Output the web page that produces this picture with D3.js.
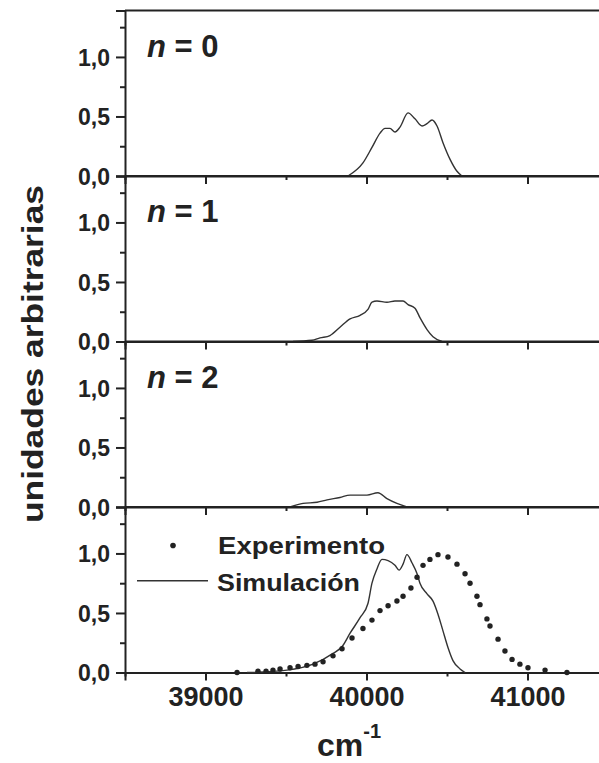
<!DOCTYPE html>
<html>
<head>
<meta charset="utf-8">
<script src="https://cdn.jsdelivr.net/npm/d3@7"></script>
<style>
  body { margin: 0; background: #fff; }
  svg text { font-family: "Liberation Sans", Arial, sans-serif; font-weight: bold; fill: #222; }
</style>
</head>
<body>
<svg id="chart"></svg>
<script>
// wavenumber axis (cm-1)
const xTicks = [39000, 40000, 41000];
const xMinor = [38500, 39500, 40500, 41500];
const yTicks = [0, 0.5, 1.0];
const yMinor = [0.25, 0.75, 1.25];
const panelNames = ["0", "1", "2"];

// n = 0
const n0X = [39885, 39978, 40034, 40084, 40115, 40146, 40177, 40208, 40258, 40301, 40345, 40376, 40407, 40438, 40475, 40519, 40562, 40593];
const n0Y = [0.0, 0.11, 0.24, 0.36, 0.40, 0.40, 0.37, 0.41, 0.53, 0.48, 0.42, 0.44, 0.47, 0.42, 0.28, 0.14, 0.04, 0.0];

// n = 1
const n1X = [39543, 39661, 39711, 39773, 39835, 39898, 39960, 40009, 40034, 40065, 40127, 40177, 40227, 40258, 40301, 40332, 40376, 40413, 40469];
const n1Y = [0.0, 0.01, 0.03, 0.05, 0.12, 0.19, 0.22, 0.27, 0.33, 0.34, 0.33, 0.34, 0.34, 0.31, 0.28, 0.20, 0.10, 0.04, 0.0];

// n = 2
const n2X = [39525, 39606, 39693, 39755, 39835, 39898, 40003, 40071, 40127, 40189, 40251];
const n2Y = [0.0, 0.03, 0.04, 0.06, 0.08, 0.10, 0.10, 0.12, 0.07, 0.03, 0.0];

// Simulacion
const simX = [39258, 39506, 39668, 39792, 39850, 39898, 39960, 40009, 40034, 40065, 40096, 40134, 40177, 40202, 40227, 40251, 40283, 40314, 40332, 40376, 40413, 40444, 40475, 40506, 40537, 40581, 40612];
const simY = [0.0, 0.02, 0.07, 0.16, 0.22, 0.33, 0.46, 0.58, 0.75, 0.87, 0.95, 0.94, 0.90, 0.86, 0.91, 0.99, 0.92, 0.83, 0.75, 0.66, 0.60, 0.49, 0.35, 0.21, 0.10, 0.03, 0.0];

// Experimento
const expX = [39196, 39326, 39376, 39419, 39463, 39525, 39575, 39630, 39680, 39730, 39792, 39848, 39910, 39978, 40034, 40084, 40134, 40189, 40227, 40276, 40314, 40351, 40394, 40444, 40506, 40562, 40612, 40643, 40686, 40705, 40748, 40767, 40817, 40860, 40904, 40953, 41003, 41109, 41245];
const expY = [0.0, 0.01, 0.01, 0.02, 0.03, 0.04, 0.05, 0.06, 0.07, 0.09, 0.14, 0.20, 0.29, 0.37, 0.44, 0.52, 0.56, 0.60, 0.64, 0.71, 0.80, 0.90, 0.95, 0.99, 0.97, 0.91, 0.83, 0.75, 0.64, 0.57, 0.45, 0.39, 0.28, 0.18, 0.11, 0.07, 0.04, 0.02, 0.0];

const W = 599, H = 763;
const margin = { top: 10.5, left: 125 };
const panelH = 165.5;
const plotRight = 608; // right frame falls just outside the picture
const ink = "#222";

const svg = d3.select("#chart").attr("width", W).attr("height", H);

const x = d3.scaleLinear().domain([38500, 41500]).range([margin.left, plotRight]);
const zip = (xs, ys) => xs.map((v, i) => [v, ys[i]]);
const curves = [zip(n0X, n0Y), zip(n1X, n1Y), zip(n2X, n2Y), zip(simX, simY)];

for (let p = 0; p < 4; p++) {
  const top = margin.top + p * panelH;
  const bottom = top + panelH;
  const y = d3.scaleLinear().domain([0, 1.39]).range([bottom, top]);
  const g = svg.append("g").attr("class", "panel");

  // frame
  g.append("line").attr("x1", margin.left).attr("x2", plotRight)
    .attr("y1", top).attr("y2", top).attr("stroke", ink).attr("stroke-width", 2);

  // bottom axis
  const xAxis = g.append("g").attr("transform", `translate(0,${bottom})`)
    .call(d3.axisBottom(x).tickValues(xTicks).tickSize(8).tickFormat(p === 3 ? d3.format("d") : ""));
  g.append("g").attr("transform", `translate(0,${bottom})`)
    .call(d3.axisBottom(x).tickValues(xMinor).tickSize(4).tickFormat(""))
    .select(".domain").remove();

  // left axis
  const yAxis = g.append("g").attr("transform", `translate(${margin.left},0)`)
    .call(d3.axisLeft(y).tickValues(yTicks).tickSize(9).tickFormat(d => d3.format(".1f")(d).replace(".", ",")));
  g.append("g").attr("transform", `translate(${margin.left},0)`)
    .call(d3.axisLeft(y).tickValues(yMinor).tickSize(5).tickFormat(""))
    .select(".domain").remove();

  g.selectAll(".domain").attr("stroke", ink).attr("stroke-width", 2);
  g.selectAll(".tick line").attr("stroke", ink).attr("stroke-width", 2);
  yAxis.selectAll(".tick text").attr("font-size", 23).attr("fill", ink).attr("x", -15).attr("dy", "0.36em");
  xAxis.selectAll(".tick text").attr("font-size", 27).attr("fill", ink).attr("y", 14).attr("dy", "0.71em");

  // curve
  g.append("path")
    .datum(curves[p])
    .attr("fill", "none")
    .attr("stroke", "#333")
    .attr("stroke-width", 1.4)
    .attr("d", d3.line().x(d => x(d[0])).y(d => y(d[1])).curve(d3.curveMonotoneX));

  if (p < 3) {
    const lab = g.append("text").attr("x", margin.left + 22).attr("y", y(1.0))
      .attr("font-size", 31);
    lab.append("tspan").attr("font-style", "italic").text("n");
    lab.append("tspan").text(" = " + panelNames[p]);
  } else {
    g.selectAll("circle.exp")
      .data(zip(expX, expY))
      .enter().append("circle")
      .attr("class", "exp")
      .attr("cx", d => x(d[0]))
      .attr("cy", d => y(d[1]))
      .attr("r", 2.7)
      .attr("fill", ink);

    // legend
    const ly1 = y(1.0) - 8, ly2 = y(0.77);
    g.append("circle").attr("cx", 173).attr("cy", ly1).attr("r", 2.8).attr("fill", ink);
    g.append("text").attr("x", 218).attr("y", ly1 + 9).attr("font-size", 24)
      .attr("textLength", 167).attr("lengthAdjust", "spacingAndGlyphs").text("Experimento");
    g.append("line").attr("x1", 137).attr("x2", 208).attr("y1", ly2).attr("y2", ly2)
      .attr("stroke", "#333").attr("stroke-width", 1.4);
    g.append("text").attr("x", 217).attr("y", ly2 + 10).attr("font-size", 24)
      .attr("textLength", 143).attr("lengthAdjust", "spacingAndGlyphs").text("Simulación");
  }
}

// axis titles
svg.append("text")
  .attr("transform", `translate(43,${(185 + 523) / 2}) rotate(-90)`)
  .attr("text-anchor", "middle")
  .attr("font-size", 29)
  .attr("textLength", 338).attr("lengthAdjust", "spacingAndGlyphs")
  .text("unidades arbitrarias");

const xt = svg.append("text").attr("x", 349).attr("y", 756).attr("text-anchor", "middle");
xt.append("tspan").attr("font-size", 32).text("cm");
xt.append("tspan").attr("font-size", 20).attr("dy", -18).text("-1");
</script>
</body>
</html>
